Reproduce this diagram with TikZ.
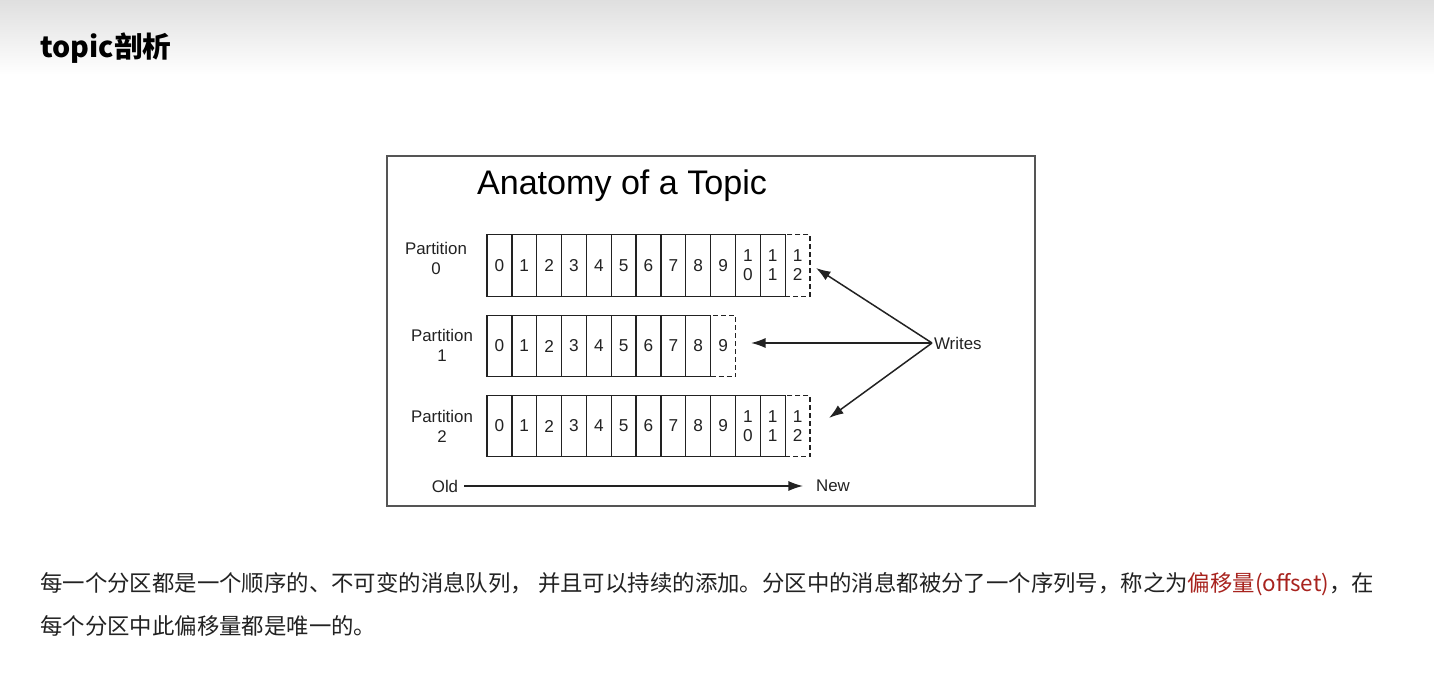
\documentclass[tikz,border=0pt]{standalone}
\usepackage{fontspec}
\setmainfont{Liberation Sans}
\newfontfamily\cjk{Noto Sans CJK SC}
\usepackage{xcolor}
\usetikzlibrary{positioning,arrows.meta,calc}

\definecolor{inkgray}{HTML}{222222}
\definecolor{framegray}{HTML}{555555}
\definecolor{offsetred}{HTML}{A8231E}
\newcommand{\cellnum}[1]{\ifnum#1>9 1\\\the\numexpr#1-10\relax\else#1\fi}

\begin{document}
\begin{tikzpicture}[
  x=0.02cm, y=-0.02cm,
  cell/.style={rectangle, draw=inkgray, line width=0.75pt, inner sep=0pt,
               minimum width=0.497cm, minimum height=1.23cm, align=center,
               font=\fontsize{9.8}{10.8}\selectfont, text=inkgray},
  newcell/.style={cell, dash pattern=on 0.1cm off 0.06cm},
  plabel/.style={font=\fontsize{9.6}{11.4}\selectfont, align=center, text=inkgray},
  arrow/.style={-{Latex[length=0.29cm,width=0.2cm]}, line width=0.85pt, inkgray}
]

\useasboundingbox (0,0) rectangle (1434,675);
\fill[white] (0,0) rectangle (1434,675);
\shade[top color=gray!25, bottom color=white] (0,0) rectangle (1434,75);

\node[anchor=west, inner sep=0pt, font=\cjk\bfseries\fontsize{16.3}{19}\selectfont] (heading) at (40,48) {topic剖析};

% diagram frame
\draw[framegray, line width=0.6pt] (387,156) rectangle (1035,506);
\node[font=\fontsize{19.4}{23}\selectfont] (title) at (622,186) {Anatomy of a Topic};

% partitions
\foreach \p/\n/\y/\lx/\ly in {0/13/265.5/436/258, 1/10/346/442/345, 2/13/426/442/426} {
  \pgfmathtruncatemacro\lastsolid{\n-2}
  \pgfmathtruncatemacro\last{\n-1}
  \node[plabel] (lab\p) at (\lx,\ly) {Partition\\\p};
  \foreach \i in {0,...,\lastsolid} {
    \node[cell] (p\p c\i) at ({487+24.85*(\i+0.5)},\y) {\cellnum{\i}};
  }
  \node[newcell] (p\p c\last) at ({487+24.85*(\last+0.5)},\y) {\cellnum{\last}};
}

% writes
\node[plabel, anchor=west, inner sep=1pt] (writes) at (932,343) {Writes};
\coordinate (w0) at (816,268);
\coordinate (w1) at (751,343);
\coordinate (w2) at (829,418);
\foreach \t in {w0, w1, w2} {
  \draw[arrow] (writes.west) -- (\t);
}

% old to new
\node[plabel] (old) at (445,486) {Old};
\node[plabel] (new) at (833,486) {New};
\draw[arrow, line width=0.75pt, shorten >=0.14cm] (old) -- (new);

% caption text
\node[anchor=base west, inner sep=0pt, font=\cjk\fontsize{12.75}{15}\selectfont, text=inkgray] (line1) at (40,591)
  {每一个分区都是一个顺序的、不可变的消息队列， 并且可以持续的添加。分区中的消息都被分了一个序列号，称之为\textcolor{offsetred}{偏移量(offset)}，在};
\node[anchor=base west, inner sep=0pt, font=\cjk\fontsize{12.75}{15}\selectfont, text=inkgray] (line2) at (40,634)
  {每个分区中此偏移量都是唯一的。};

\end{tikzpicture}
\end{document}
